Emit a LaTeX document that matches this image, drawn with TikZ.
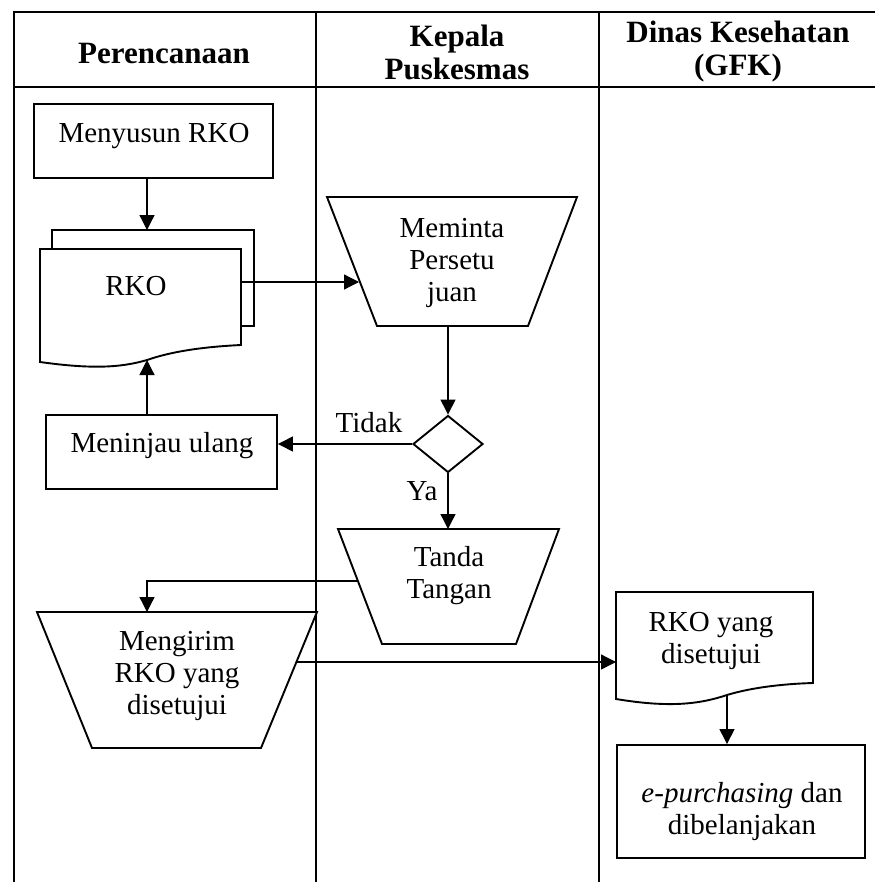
\documentclass[tikz,border=0pt]{standalone}
\usepackage{fontspec}
\setmainfont{Liberation Serif}
\usetikzlibrary{arrows.meta,shapes.geometric}
\begin{document}
\begin{tikzpicture}[x=1pt,y=-1pt,
  lane/.style={line width=2.8pt},
  outline/.style={draw, line width=1.9pt, fill=white, line join=miter},
  flow/.style={line width=1.3pt, -{Triangle[length=15pt,width=15pt]}},
  lbl/.style={font=\fontsize{29}{32}\selectfont, align=center, inner sep=0pt},
  head/.style={font=\fontsize{31}{33}\selectfont\bfseries, align=center, inner sep=0pt}]
\useasboundingbox (0,0) rectangle (875,891);

% swimlane grid
\draw[lane] (14,882) -- (14,12) -- (875,12);
\draw[lane] (14,87) -- (875,87);
\draw[lane] (316,12) -- (316,882);
\draw[lane] (599,12) -- (599,882);

% lane titles
\node[head] (hPlan) at (164,54) {Perencanaan};
\node[head] (hKepala) at (457,52) {Kepala\\Puskesmas};
\node[head] (hDinas) at (738,52) {Dinas Kesehatan\\(GFK)};

% Perencanaan: compose the RKO
\node[outline, minimum width=239pt, minimum height=74pt, inner sep=0pt] (menyusun) at (153.5,141) {};
\node[lbl] (tMenyusun) at (154,136) {Menyusun RKO};

% stacked RKO documents
\draw[outline] (52,230) rectangle (254,326);
\draw[outline] (40,249) -- (241,249) -- (241,345)
  .. controls (200,347) and (170,352) .. (147,360)
  .. controls (120,368) and (90,369) .. (40,362) -- cycle;
\node[lbl] (tRko) at (136,286) {RKO};
\coordinate (rkoTop) at (147,230);
\coordinate (rkoRight) at (241,282);
\coordinate (rkoWave) at (147,360);

% review box
\node[outline, minimum width=231pt, minimum height=74pt, inner sep=0pt] (meninjau) at (161.5,452) {};
\node[lbl] (tMeninjau) at (162,446) {Meninjau ulang};

% Kepala Puskesmas: request approval
\draw[outline] (327,197) -- (577,197) -- (528,326) -- (377,326) -- cycle;
\node[lbl] (tMeminta) at (452,263) {Meminta\\Persetu\\juan};
\coordinate (memintaLeft) at (359,282);
\coordinate (memintaBottom) at (448,326);

% decision
\node[draw, line width=1.9pt, diamond, minimum width=70pt, minimum height=57pt, inner sep=0pt] (cek) at (448,444) {};
\node[lbl] (tTidak) at (369,423) {Tidak};
\node[lbl] (tYa) at (422,491) {Ya};

% signature
\draw[outline] (338,529) -- (559,529) -- (516,644) -- (382,644) -- cycle;
\node[lbl] (tTanda) at (449,576) {Tanda\\Tangan};
\coordinate (tandaTop) at (448,529);
\coordinate (tandaLeft) at (358,581);

% send the approved RKO
\draw[outline] (37,612) -- (317,612) -- (261,748) -- (92,748) -- cycle;
\node[lbl] (tMengirim) at (177,676) {Mengirim\\RKO yang\\disetujui};
\coordinate (mengirimTop) at (147,612);
\coordinate (mengirimRight) at (296,662);

% Dinas Kesehatan: approved RKO document
\draw[outline] (616,592) -- (813,592) -- (813,683)
  .. controls (780,684) and (750,688) .. (727,695)
  .. controls (700,704) and (670,708) .. (616,699) -- cycle;
\node[lbl] (tSetuju) at (711,641) {RKO yang\\disetujui};
\coordinate (setujuLeft) at (616,662);
\coordinate (setujuWave) at (727,695);

\node[outline, minimum width=248pt, minimum height=113pt, inner sep=0pt] (belanja) at (741,801.5) {};
\node[lbl] (tBelanja) at (742,812) {\textit{e-purchasing} dan\\dibelanjakan};

% connectors
\draw[flow] (menyusun.south -| rkoTop) -- (rkoTop);
\draw[flow] (rkoRight) -- (memintaLeft);
\draw[flow] (memintaBottom) -- (cek.north);
\draw[flow] (cek.west) -- (cek.west -| meninjau.east);
\draw[flow] (meninjau.north -| rkoWave) -- (rkoWave);
\draw[flow] (cek.south) -- (tandaTop);
\draw[flow] (tandaLeft) -| (mengirimTop);
\draw[flow] (mengirimRight) -- (setujuLeft);
\draw[flow] (setujuWave) -- (setujuWave |- belanja.north);
\end{tikzpicture}
\end{document}
